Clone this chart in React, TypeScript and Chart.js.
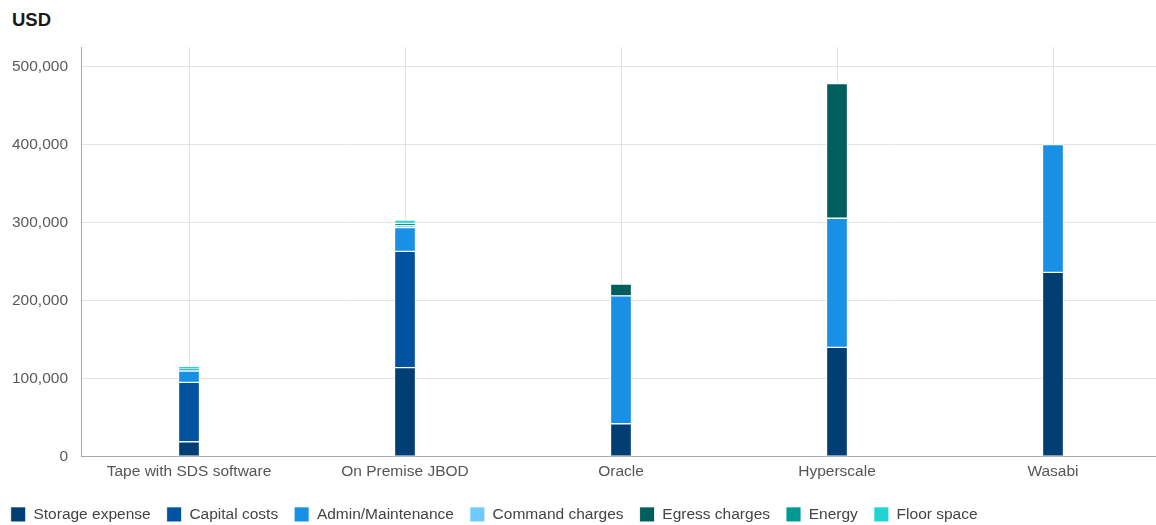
import React, { useEffect, useRef } from "react";
import { Chart, registerables } from "chart.js";

Chart.register(...registerables);

const categories = ["Tape with SDS software", "On Premise JBOD", "Oracle", "Hyperscale", "Wasabi"];
const storageExpense = [19000, 114000, 42000, 140000, 236000];
const capitalCosts = [76000, 149000, null, null, null];
const adminMaintenance = [14500, 30500, 164000, 165500, 164000];
const commandCharges = [1500, 2500, null, null, null];
const egressCharges = [null, null, 15000, 172500, null];
const energy = [1000, 3000, null, null, null];
const floorSpace = [3500, 4000, null, null, null];
const yTickValues = [0, 100000, 200000, 300000, 400000, 500000];

const seriesNames = ["Storage expense", "Capital costs", "Admin/Maintenance", "Command charges", "Egress charges", "Energy", "Floor space"];
const seriesColors = ["#003e73", "#0053a0", "#1790e6", "#6fcbff", "#005f5c", "#009a93", "#22d3d3"];
const seriesData = [storageExpense, capitalCosts, adminMaintenance, commandCharges, egressCharges, energy, floorSpace];

const FONT = "'Liberation Sans', Arial, sans-serif";
const PAD_LEFT = -5.3;

export default function App() {
  const ref = useRef<HTMLCanvasElement | null>(null);
  useEffect(() => {
    if (!ref.current) return;
    const chart = new Chart(ref.current, {
      type: "bar",
      data: {
        labels: categories,
        datasets: seriesNames.map((name, i) => ({
          label: name,
          data: seriesData[i],
          backgroundColor: seriesColors[i],
          borderColor: "rgba(255,255,255,0.85)",
          borderWidth: 1,
          borderSkipped: false,
          barThickness: 21,
        })),
      },
      options: {
        animation: false,
        responsive: true,
        maintainAspectRatio: false,
        layout: { padding: { left: PAD_LEFT, right: 9, top: 47, bottom: -7.15 } },
        plugins: {
          title: { display: false },
          tooltip: { enabled: false },
          legend: {
            position: "bottom",
            align: "start",
            labels: {
              boxWidth: 15,
              boxHeight: 15,
              padding: 16,
              color: "#444",
              font: { family: FONT, size: 15.5 },
            },
          },
        },
        scales: {
          x: {
            stacked: true,
            grid: { offset: false, color: "#e4e4e4", drawTicks: false },
            border: { color: "#a8a8a8" },
            ticks: { color: "#555", padding: 6, font: { family: FONT, size: 15.5 } },
            afterFit: (scale: any) => {
              scale.height = scale.height + 3.5;
            },
          },
          y: {
            stacked: true,
            min: 0,
            max: 525000,
            afterBuildTicks: (scale: any) => {
              scale.ticks = yTickValues.map((v) => ({ value: v }));
            },
            afterFit: (scale: any) => {
              scale.width = 81 - PAD_LEFT;
            },
            grid: { color: "#e4e4e4", drawTicks: false },
            border: { color: "#a8a8a8" },
            ticks: {
              color: "#5a5a5a",
              padding: 13,
              font: { family: FONT, size: 15.5 },
              callback: (v: any) => Number(v).toLocaleString("en-US"),
            },
          },
        },
      },
    });
    return () => chart.destroy();
  }, []);

  return (
    <div style={{ position: "fixed", left: 0, top: 0, width: 1156, height: 525, overflow: "hidden", background: "#fff" }}>
      <div style={{ position: "absolute", left: 12, top: 8, fontFamily: FONT, fontWeight: 700, fontSize: 18.5, color: "#1a1a1a", lineHeight: "24px" }}>
        USD
      </div>
      <div style={{ position: "absolute", left: 0, top: 0, width: 1170, height: 525 }}>
        <canvas ref={ref} />
      </div>
    </div>
  );
}
